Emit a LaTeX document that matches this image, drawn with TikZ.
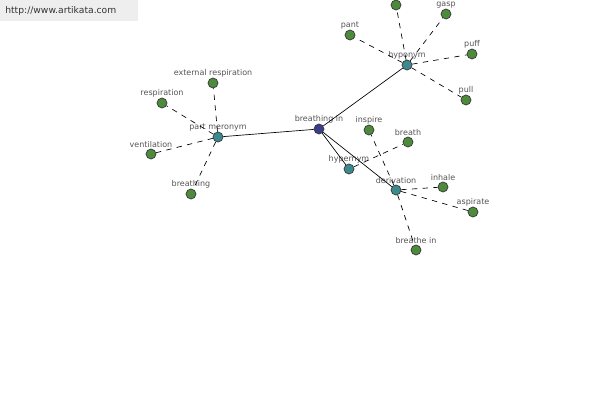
\documentclass[tikz,border=0pt]{standalone}
\usepackage{fontspec}
\setmainfont{DejaVu Sans}
\begin{document}
\begin{tikzpicture}[x=0.75pt,y=-0.75pt,
  dot/.style={circle,draw=black!80,line width=0.5pt,minimum size=7.5pt,inner sep=0pt},
  leaf/.style={dot,fill=leafgreen},
  rel/.style={dot,fill=relteal},
  hub/.style={dot,fill=hubblue},
  lbl/.style={label={[label distance=0pt,inner sep=0.5pt,text=txtgray,font=\fontsize{6}{7}\selectfont]above:#1}},
  solidedge/.style={draw=black,line width=0.5pt},
  dashedge/.style={draw=black,line width=0.5pt,dash pattern=on 4pt off 4pt}]
\definecolor{leafgreen}{HTML}{4E8A3C}
\definecolor{relteal}{HTML}{3C8A8E}
\definecolor{hubblue}{HTML}{3A3F88}
\definecolor{txtgray}{HTML}{555555}
\definecolor{hdrgray}{HTML}{EEEEEE}
\useasboundingbox (0,0) rectangle (600,400);
\fill[white] (0,0) rectangle (600,400);
\fill[hdrgray] (0,0) rectangle (138,21);
\node[anchor=west,inner sep=0pt,text=black!80,font=\fontsize{6.9}{8}\selectfont] (hdr) at (5,11) {http://www.artikata.com};

% centre and relation nodes
\node[hub,lbl={breathing in}] (bi) at (319,129) {};
\node[rel,lbl={part meronym}] (pm) at (218,137) {};
\node[rel,lbl={hyponym}] (hypo) at (407,65) {};
\node[rel,lbl={hypernym}] (hyper) at (349,169) {};
\node[rel,lbl={derivation}] (der) at (396,190) {};

% leaves
\node[leaf,lbl={external respiration}] (extr) at (213,83) {};
\node[leaf,lbl={respiration}] (resp) at (162,103) {};
\node[leaf,lbl={ventilation}] (vent) at (151,154) {};
\node[leaf,lbl={breathing}] (bing) at (191,194) {};
\node[leaf,lbl={pant}] (pant) at (350,35) {};
\node[leaf] (topl) at (396,5) {};
\node[leaf,lbl={gasp}] (gasp) at (446,14) {};
\node[leaf,lbl={puff}] (puff) at (472,54) {};
\node[leaf,lbl={pull}] (pull) at (466,100) {};
\node[leaf,lbl={inspire}] (insp) at (369,130) {};
\node[leaf,lbl={breath}] (brth) at (408,142) {};
\node[leaf,lbl={inhale}] (inh) at (443,187) {};
\node[leaf,lbl={aspirate}] (asp) at (473,212) {};
\node[leaf,lbl={breathe in}] (bin) at (416,250) {};

% edges
\path[solidedge] (bi) -- (pm);
\path[solidedge] (bi) -- (hypo);
\path[solidedge] (bi) -- (hyper);
\path[solidedge] (bi) -- (der);
\foreach \a in {extr,resp,vent,bing} \path[dashedge] (pm) -- (\a);
\foreach \a in {pant,topl,gasp,puff,pull} \path[dashedge] (hypo) -- (\a);
\path[dashedge] (hyper) -- (brth);
\foreach \a in {insp,inh,asp,bin} \path[dashedge] (der) -- (\a);
\end{tikzpicture}
\end{document}
